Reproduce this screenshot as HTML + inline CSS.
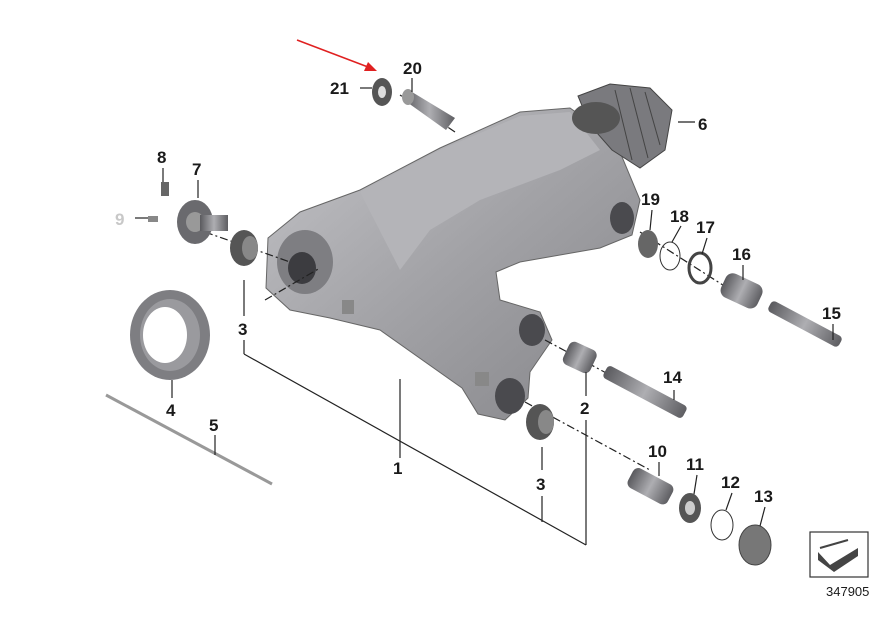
<!DOCTYPE html>
<html><head><meta charset="utf-8"><style>
html,body{margin:0;padding:0;background:#fff}
svg{display:block}
text{font-family:"Liberation Sans",sans-serif;font-weight:bold;font-size:17px;fill:#1a1a1a}
</style></head><body>
<svg width="893" height="625" viewBox="0 0 893 625" xmlns="http://www.w3.org/2000/svg">
<defs>
<linearGradient id="g" x1="0" y1="0" x2="1" y2="1">
<stop offset="0" stop-color="#c4c4c8"/><stop offset="0.5" stop-color="#a2a2a6"/><stop offset="1" stop-color="#858589"/>
</linearGradient>
<linearGradient id="m" x1="0" y1="0" x2="1" y2="0">
<stop offset="0" stop-color="#5a5a5e"/><stop offset="0.5" stop-color="#aeaeb2"/><stop offset="1" stop-color="#5e5e62"/>
</linearGradient>
</defs>
<path d="M268,238 L300,212 L360,190 L440,148 L520,112 L570,108 L615,140 L640,200 L632,235 L600,248 L520,262 L496,272 L500,300 L540,312 L552,340 L530,372 L528,398 L505,420 L478,414 L462,388 L380,330 L330,318 L290,310 L266,288 Z" fill="url(#g)" stroke="#666" stroke-width="1"/>
<path d="M360,192 L440,150 L520,116 L570,112 L600,150 L560,170 L480,200 L430,230 L400,270 Z" fill="#b4b4b8"/>
<ellipse cx="305" cy="262" rx="28" ry="32" fill="#7e7e82"/>
<ellipse cx="302" cy="268" rx="14" ry="16" fill="#3c3c40"/>
<ellipse cx="622" cy="218" rx="12" ry="16" fill="#4a4a4e"/>
<ellipse cx="532" cy="330" rx="13" ry="16" fill="#4a4a4e"/>
<ellipse cx="510" cy="396" rx="15" ry="18" fill="#4a4a4e"/>
<rect x="475" y="372" width="14" height="14" fill="#888"/>
<rect x="342" y="300" width="12" height="14" fill="#888"/>
<g stroke="#222" stroke-width="1.2" stroke-dasharray="8,3,2,3" fill="none">
<line x1="265" y1="300" x2="320" y2="268"/>
<line x1="455" y1="132" x2="400" y2="95"/>
<line x1="640" y1="232" x2="740" y2="296"/>
<line x1="545" y1="340" x2="610" y2="375"/>
<line x1="525" y1="402" x2="650" y2="470"/>
<line x1="640" y1="160" x2="600" y2="130"/>
<line x1="205" y1="232" x2="290" y2="262"/>
</g>
<ellipse cx="382" cy="92" rx="10" ry="14" fill="#555"/>
<ellipse cx="382" cy="92" rx="4" ry="6" fill="#ddd"/>
<path d="M404,100 L412,92 L455,118 L446,130 Z" fill="url(#m)"/>
<ellipse cx="408" cy="97" rx="6" ry="8" fill="#999"/>
<path d="M578,96 L610,84 L650,88 L672,110 L665,150 L640,168 L612,150 L590,125 Z" fill="#7a7a7e" stroke="#444"/>
<ellipse cx="596" cy="118" rx="24" ry="16" fill="#555"/>
<g stroke="#444" fill="none"><path d="M615,90 L632,160"/><path d="M630,88 L648,158"/><path d="M645,92 L660,145"/></g>
<rect x="161" y="182" width="8" height="14" fill="#666"/>
<ellipse cx="195" cy="222" rx="18" ry="22" fill="#6a6a6e"/>
<ellipse cx="195" cy="222" rx="9" ry="10" fill="#999"/>
<rect x="200" y="215" width="28" height="16" fill="url(#m)"/>
<rect x="148" y="216" width="10" height="6" fill="#888"/>
<ellipse cx="244" cy="248" rx="14" ry="18" fill="#555"/>
<ellipse cx="250" cy="248" rx="8" ry="12" fill="#888"/>
<ellipse cx="170" cy="335" rx="40" ry="45" fill="#7e7e82"/>
<ellipse cx="170" cy="335" rx="30" ry="36" fill="#9a9a9e"/>
<ellipse cx="165" cy="335" rx="22" ry="28" fill="#fff"/>
<line x1="106" y1="395" x2="272" y2="484" stroke="#999" stroke-width="3"/>
<ellipse cx="648" cy="244" rx="10" ry="14" fill="#666"/>
<ellipse cx="670" cy="256" rx="10" ry="14" fill="none" stroke="#333"/>
<ellipse cx="700" cy="268" rx="11" ry="15" fill="none" stroke="#444" stroke-width="3"/>
<rect x="722" y="278" width="40" height="26" rx="8" fill="url(#m)" transform="rotate(25 742 290)"/>
<rect x="765" y="318" width="80" height="12" rx="4" fill="url(#m)" transform="rotate(28 805 324)"/>
<rect x="565" y="345" width="30" height="25" rx="6" fill="url(#m)" transform="rotate(25 580 357)"/>
<rect x="600" y="385" width="90" height="14" rx="4" fill="url(#m)" transform="rotate(28 645 392)"/>
<ellipse cx="540" cy="422" rx="14" ry="18" fill="#555"/>
<ellipse cx="546" cy="422" rx="8" ry="12" fill="#888"/>
<rect x="628" y="475" width="45" height="22" rx="6" fill="url(#m)" transform="rotate(28 650 486)"/>
<ellipse cx="690" cy="508" rx="11" ry="15" fill="#555"/>
<ellipse cx="690" cy="508" rx="5" ry="7" fill="#ccc"/>
<ellipse cx="722" cy="525" rx="11" ry="15" fill="none" stroke="#333"/>
<ellipse cx="755" cy="545" rx="16" ry="20" fill="#777" stroke="#444"/>
<g stroke="#222" stroke-width="1.2" fill="none">
<line x1="360" y1="88" x2="372" y2="88"/>
<line x1="412" y1="78" x2="412" y2="92"/>
<line x1="678" y1="122" x2="695" y2="122"/>
<line x1="163" y1="168" x2="163" y2="182"/>
<line x1="198" y1="180" x2="198" y2="198"/>
<line x1="135" y1="218" x2="148" y2="218"/>
<line x1="652" y1="210" x2="650" y2="230"/>
<line x1="681" y1="226" x2="672" y2="242"/>
<line x1="707" y1="238" x2="702" y2="254"/>
<line x1="743" y1="265" x2="743" y2="280"/>
<line x1="833" y1="324" x2="833" y2="340"/>
<line x1="244" y1="280" x2="244" y2="316"/>
<line x1="244" y1="340" x2="244" y2="354"/>
<line x1="244" y1="354" x2="586" y2="545"/>
<line x1="172" y1="380" x2="172" y2="398"/>
<line x1="215" y1="435" x2="215" y2="455"/>
<line x1="400" y1="379" x2="400" y2="458"/>
<line x1="674" y1="390" x2="674" y2="400"/>
<line x1="586" y1="372" x2="586" y2="396"/>
<line x1="586" y1="420" x2="586" y2="545"/>
<line x1="542" y1="447" x2="542" y2="470"/>
<line x1="542" y1="496" x2="542" y2="522"/>
<line x1="659" y1="462" x2="659" y2="476"/>
<line x1="697" y1="475" x2="694" y2="494"/>
<line x1="732" y1="493" x2="726" y2="510"/>
<line x1="765" y1="507" x2="760" y2="526"/>
</g>
<line x1="297" y1="40" x2="368" y2="67" stroke="#e02020" stroke-width="1.5"/>
<polygon points="377,71 364,71 368,62" fill="#e02020"/>
<text x="403" y="74">20</text>
<text x="330" y="94">21</text>
<text x="698" y="130">6</text>
<text x="157" y="163">8</text>
<text x="192" y="175">7</text>
<text x="115" y="225" style="fill:#c8c8c8">9</text>
<text x="641" y="205">19</text>
<text x="670" y="222">18</text>
<text x="696" y="233">17</text>
<text x="732" y="260">16</text>
<text x="822" y="319">15</text>
<text x="238" y="335">3</text>
<text x="166" y="416">4</text>
<text x="209" y="431">5</text>
<text x="393" y="474">1</text>
<text x="663" y="383">14</text>
<text x="580" y="414">2</text>
<text x="536" y="490">3</text>
<text x="648" y="457">10</text>
<text x="686" y="470">11</text>
<text x="721" y="488">12</text>
<text x="754" y="502">13</text>
<rect x="810" y="532" width="58" height="45" fill="#fff" stroke="#333" stroke-width="1.2"/>
<path d="M818,552 L830,565 L858,548 L858,556 L834,572 L818,560 Z" fill="#444"/>
<path d="M820,548 L848,540" stroke="#444" stroke-width="2"/>
<text x="826" y="596" style="font-weight:normal;font-size:13px">347905</text>
</svg>
</body></html>
